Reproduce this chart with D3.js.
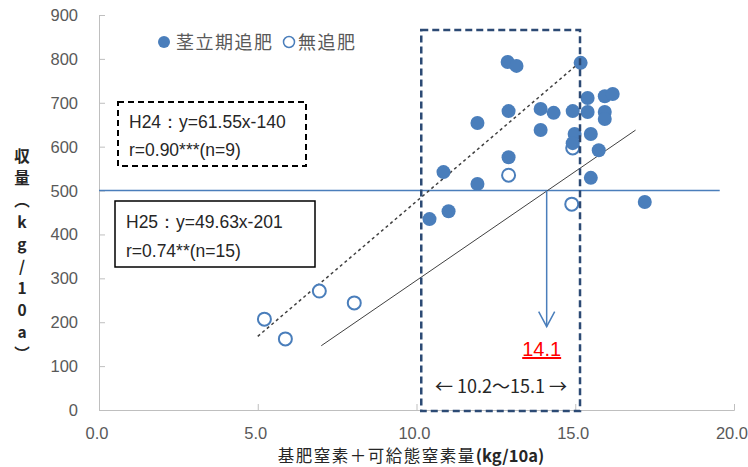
<!DOCTYPE html>
<html>
<head>
<meta charset="utf-8">
<script src="https://cdn.jsdelivr.net/npm/d3@7"></script>
<style>
  body { margin: 0; background: #fff; }
  svg { display: block; }
</style>
</head>
<body>
<svg id="chart" width="748" height="467"></svg>
<script>
// 茎立期追肥 (filled) : [x, y]
const toppedX = [12.87, 13.15, 15.17, 15.39, 15.93, 16.18, 11.92, 12.90, 13.91, 14.32, 14.92, 15.39, 15.93, 15.93, 13.91, 14.98, 14.92, 15.49, 15.74, 12.90, 10.85, 11.92, 15.49, 17.19, 10.41, 11.01];
const toppedY = [793, 784, 791, 711, 715, 720, 654, 681, 686, 677, 681, 679, 679, 663, 638, 629, 608, 629, 592, 576, 542, 515, 529, 474, 435, 453];
// 無追肥 (open)
const noneX = [6.94, 5.21, 5.87, 8.04, 12.90, 14.89, 14.92];
const noneY = [271, 207, 162, 244, 535, 469, 597];

const xTicks = [0, 5, 10, 15, 20];
const yTicks = [0, 100, 200, 300, 400, 500, 600, 700, 800, 900];

// regression lines
const h24 = { slope: 61.55, icpt: -140, from: 5.0, to: 15.0 };
const h25 = { slope: 49.63, icpt: -201, from: 7.0, to: 16.9 };
const target = 500;
const optimum = 14.1;
const rangeLo = 10.15, rangeHi = 15.15;

const svg = d3.select("#chart");
const x = d3.scaleLinear().domain([0, 20]).range([99, 734]);
const y = d3.scaleLinear().domain([0, 900]).range([410, 15]);

const blue = "#4a7ebb";
const gray = "#595959";
const numFont = "'Liberation Sans', Arial, sans-serif";
const jpFont = "'Noto Sans CJK JP', sans-serif";

// axes
svg.append("g")
  .attr("transform", `translate(0,${y(0)})`)
  .call(d3.axisTop(x).tickValues(xTicks).tickSize(6).tickFormat(""));
svg.append("g")
  .attr("transform", `translate(${x(0)},0)`)
  .call(d3.axisRight(y).tickValues(yTicks).tickSize(6).tickFormat(""));
svg.selectAll(".domain").attr("stroke", "#bfbfbf");
svg.selectAll(".tick line").attr("stroke", "#bfbfbf");

svg.append("g").selectAll("text")
  .data(xTicks)
  .join("text")
  .attr("x", (d) => x(d) - 2)
  .attr("y", 439)
  .attr("text-anchor", "middle")
  .attr("font-family", numFont)
  .attr("font-size", 16.5)
  .attr("fill", gray)
  .text((d) => d.toFixed(1));

svg.append("g").selectAll("text")
  .data(yTicks)
  .join("text")
  .attr("x", 78)
  .attr("y", (d) => y(d) + 6)
  .attr("text-anchor", "end")
  .attr("font-family", numFont)
  .attr("font-size", 16.5)
  .attr("fill", gray)
  .text((d) => d);

// axis titles
const xTitle = svg.append("text")
  .attr("x", 411)
  .attr("y", 462)
  .attr("text-anchor", "middle")
  .attr("font-family", jpFont)
  .attr("font-size", 16.5)
  .attr("letter-spacing", 1.5)
  .attr("fill", "#262626");
xTitle.append("tspan").text("基肥窒素＋可給態窒素量");
xTitle.append("tspan").attr("font-weight", "bold").attr("letter-spacing", 0).text("(kg/10a)");

svg.append("text")
  .attr("x", 22)
  .attr("y", 148)
  .attr("writing-mode", "vertical-rl")
  .style("text-orientation", "upright")
  .attr("letter-spacing", 6.5)
  .attr("font-family", jpFont)
  .attr("font-weight", "bold")
  .attr("font-size", 15.5)
  .attr("fill", "#262626")
  .text("収量（kg/10a）");

// target line at 500
svg.append("line")
  .attr("x1", x(0)).attr("x2", x(19.55))
  .attr("y1", y(target)).attr("y2", y(target))
  .attr("stroke", blue)
  .attr("stroke-width", 1.5);

// regression lines
const line = d3.line().x((d) => x(d[0])).y((d) => y(d[1]));
svg.append("path")
  .attr("d", line([h24.from, h24.to].map((v) => [v, h24.slope * v + h24.icpt])))
  .attr("stroke", "#404040")
  .attr("stroke-width", 1.5)
  .attr("stroke-dasharray", "3,3")
  .attr("fill", "none");
svg.append("path")
  .attr("d", line([h25.from, h25.to].map((v) => [v, h25.slope * v + h25.icpt])))
  .attr("stroke", "#404040")
  .attr("stroke-width", 1)
  .attr("fill", "none");

// arrow down to 14.1
const tipY = y(190);
svg.append("line")
  .attr("x1", x(optimum)).attr("x2", x(optimum))
  .attr("y1", y(target)).attr("y2", tipY)
  .attr("stroke", blue)
  .attr("stroke-width", 1.5);
svg.append("path")
  .attr("d", `M${x(optimum) - 8},${tipY - 15}L${x(optimum)},${tipY}L${x(optimum) + 8},${tipY - 15}`)
  .attr("stroke", blue)
  .attr("stroke-width", 1.5)
  .attr("fill", "none");
svg.append("text")
  .attr("x", x(optimum) - 5)
  .attr("y", 356)
  .attr("text-anchor", "middle")
  .attr("font-family", numFont)
  .attr("font-size", 20)
  .attr("fill", "#ff0000")
  .attr("text-decoration", "underline")
  .text(optimum.toFixed(1));

// points: open first so the filled ones sit on top
svg.append("g").selectAll("circle")
  .data(noneX.map((v, i) => [v, noneY[i]]))
  .join("circle")
  .attr("cx", (d) => x(d[0]))
  .attr("cy", (d) => y(d[1]))
  .attr("r", 6.5)
  .attr("fill", "#fff")
  .attr("stroke", blue)
  .attr("stroke-width", 2);
svg.append("g").selectAll("circle")
  .data(toppedX.map((v, i) => [v, toppedY[i]]))
  .join("circle")
  .attr("cx", (d) => x(d[0]))
  .attr("cy", (d) => y(d[1]))
  .attr("r", 7)
  .attr("fill", blue);

// range box
svg.append("rect")
  .attr("x", x(rangeLo)).attr("y", 30)
  .attr("width", x(rangeHi) - x(rangeLo))
  .attr("height", y(0) + 1 - 30)
  .attr("fill", "none")
  .attr("stroke", "#2c4a74")
  .attr("stroke-width", 2.5)
  .attr("stroke-dasharray", "7,4");
svg.append("text")
  .attr("x", 501)
  .attr("y", 393)
  .attr("text-anchor", "middle")
  .attr("font-family", jpFont)
  .attr("font-size", 18)
  .attr("fill", "#262626")
  .text("← 10.2～15.1 →");

// equation boxes
svg.append("rect")
  .attr("x", 118).attr("y", 102).attr("width", 188).attr("height", 64)
  .attr("fill", "#fff")
  .attr("stroke", "#000")
  .attr("stroke-width", 2)
  .attr("stroke-dasharray", "6,4");
svg.append("text").attr("x", 129).attr("y", 128)
  .attr("font-family", numFont).attr("font-size", 17.5).attr("fill", "#262626")
  .text("H24：y=61.55x-140");
svg.append("text").attr("x", 129).attr("y", 156)
  .attr("font-family", numFont).attr("font-size", 17.5).attr("fill", "#262626")
  .text("r=0.90***(n=9)");

svg.append("rect")
  .attr("x", 115).attr("y", 201).attr("width", 200).attr("height", 66)
  .attr("fill", "#fff")
  .attr("stroke", "#000")
  .attr("stroke-width", 1.5);
svg.append("text").attr("x", 126).attr("y", 228)
  .attr("font-family", numFont).attr("font-size", 17.5).attr("fill", "#262626")
  .text("H25：y=49.63x-201");
svg.append("text").attr("x", 126).attr("y", 257)
  .attr("font-family", numFont).attr("font-size", 17.5).attr("fill", "#262626")
  .text("r=0.74**(n=15)");

// legend
const legend = svg.append("g");
legend.append("circle").attr("cx", 164).attr("cy", 42).attr("r", 6).attr("fill", blue);
legend.append("text").attr("x", 176).attr("y", 49)
  .attr("font-family", jpFont).attr("font-size", 18).attr("letter-spacing", 1.5)
  .attr("fill", gray).text("茎立期追肥");
legend.append("circle").attr("cx", 289).attr("cy", 42).attr("r", 5.5)
  .attr("fill", "#fff").attr("stroke", blue).attr("stroke-width", 1.5);
legend.append("text").attr("x", 298).attr("y", 49)
  .attr("font-family", jpFont).attr("font-size", 18).attr("letter-spacing", 1.5)
  .attr("fill", gray).text("無追肥");
</script>
</body>
</html>
